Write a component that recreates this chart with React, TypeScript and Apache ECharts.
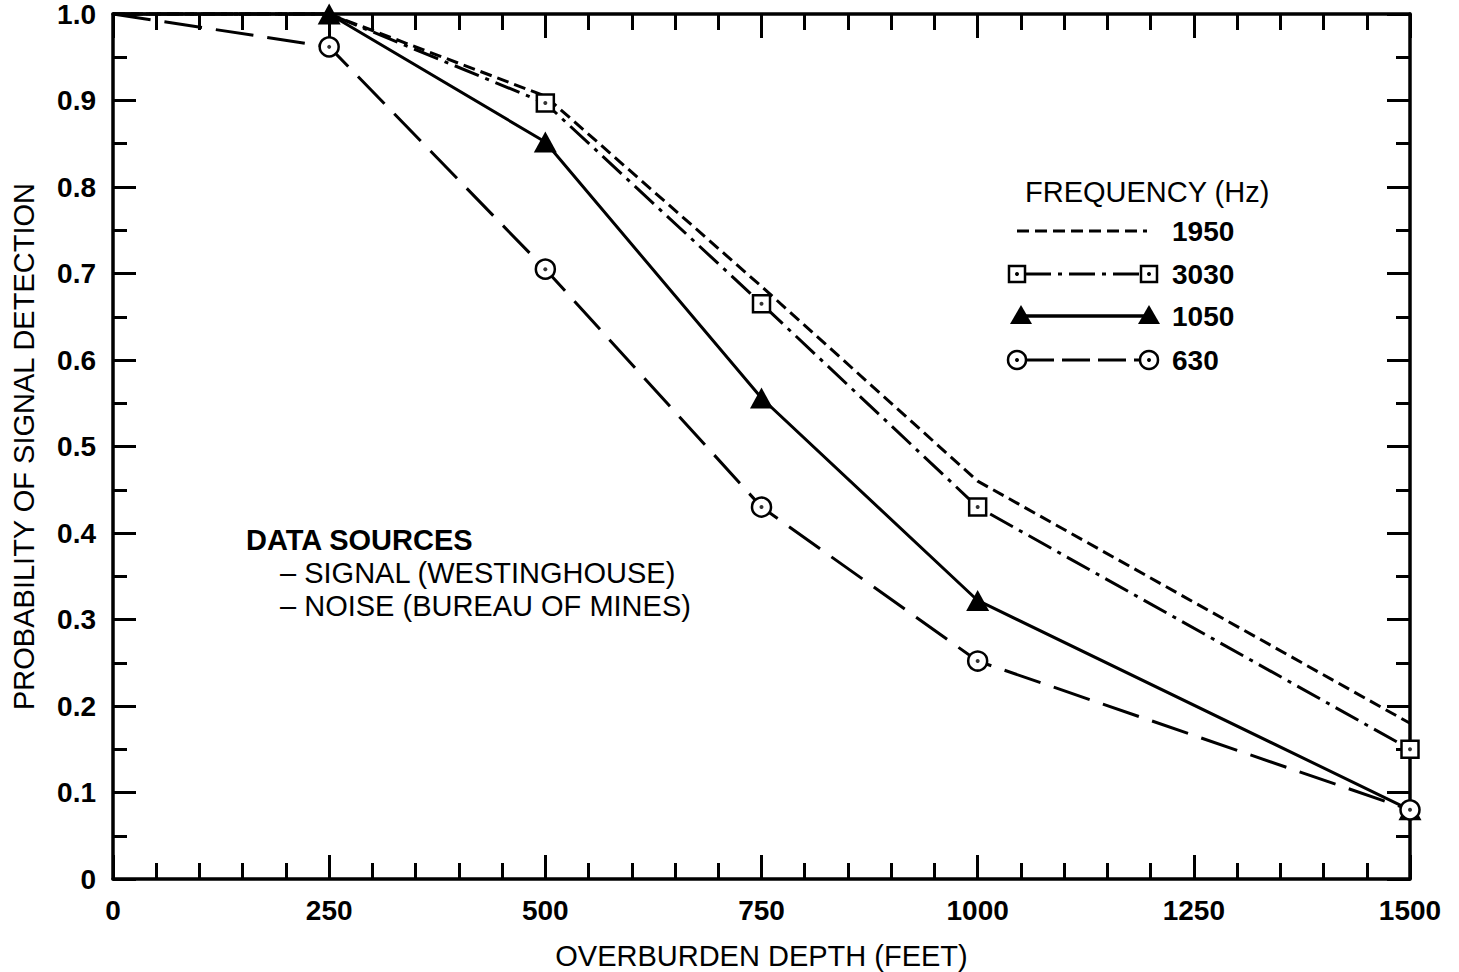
import React, { useEffect, useRef } from "react";
import * as echarts from "echarts";

// Overburden depth (feet) at which detection probability was evaluated
const depth = [0, 250, 500, 750, 1000, 1500];

// Probability of signal detection per frequency (Hz)
const f1950 = [1.0, 1.0, 0.905, 0.685, 0.46, 0.18];
const f3030 = [1.0, 1.0, 0.897, 0.665, 0.43, 0.15];
const f1050 = [1.0, 1.0, 0.852, 0.556, 0.322, 0.08];
const f630 = [1.0, 0.962, 0.705, 0.43, 0.252, 0.08];

// First index that carries a plotted marker for each marked curve
const markFrom3030 = 2;
const markFrom1050 = 1;
const markFrom630 = 1;

const xTicks = [0, 250, 500, 750, 1000, 1250, 1500];
const yTicks = [0, 0.1, 0.2, 0.3, 0.4, 0.5, 0.6, 0.7, 0.8, 0.9, 1.0];

const legendTitle = "FREQUENCY (Hz)";
const sourcesTitle = "DATA SOURCES";
const sourceLines = ["– SIGNAL (WESTINGHOUSE)", "– NOISE (BUREAU OF MINES)"];

const FONT = '"Liberation Sans", Arial, Helvetica, sans-serif';
const INK = "#000";
const TICK_FONT = 28;
const TEXT_FONT = 29;

const pairs = (ys: number[]) => depth.map((d, i) => [d, ys[i]]);

const withMarkers = (ys: number[], from: number) =>
  depth.map((d, i) => (i >= from ? { value: [d, ys[i]] } : { value: [d, ys[i]], symbol: "none" }));

const dotsFor = (ys: number[], from: number) =>
  depth.map((d, i) => [d, ys[i]]).filter((_, i) => i >= from);

function axisPair(kind: "x" | "y", showLabels: boolean, position: string) {
  const isX = kind === "x";
  return {
    type: "value",
    position,
    min: 0,
    max: isX ? xTicks[xTicks.length - 1] : yTicks[yTicks.length - 1],
    interval: isX ? 250 : 0.1,
    axisLine: { show: true, onZero: false, lineStyle: { color: INK, width: 3.5 } },
    axisTick: { show: true, inside: true, length: isX ? 24 : 23, lineStyle: { color: INK, width: 3 } },
    minorTick: {
      show: true,
      splitNumber: isX ? 5 : 2,
      length: isX ? 16 : 14,
      lineStyle: { color: INK, width: 3 },
    },
    splitLine: { show: false },
    minorSplitLine: { show: false },
    axisLabel: {
      show: showLabels,
      color: INK,
      fontFamily: FONT,
      fontSize: TICK_FONT,
      fontWeight: "bold",
      margin: 17,
      formatter: (v: number) => (isX ? String(v) : v === 0 ? "0" : v.toFixed(1)),
    },
  };
}

export default function App() {
  const ref = useRef<HTMLDivElement>(null);

  useEffect(() => {
    if (!ref.current) return;
    const chart = echarts.init(ref.current, undefined, { renderer: "svg" });

    const lineBase = {
      type: "line",
      smooth: false,
      clip: false,
      color: INK,
      itemStyle: { color: "#fff", borderColor: INK, borderWidth: 2.5 },
    };

    // legend sample geometry
    const lx1 = 1017;
    const lx2 = 1149;
    const rows = [231, 274, 316, 360];
    const labelX = 1172;

    const legendText = (text: string, y: number) => ({
      type: "text",
      x: labelX,
      y,
      style: { text, fill: INK, font: `bold ${TICK_FONT}px ${FONT}`, textVerticalAlign: "middle" },
    });

    const option = {
      animation: false,
      backgroundColor: "#fff",
      grid: { left: 113, right: 49, top: 14, bottom: 93, outerBoundsMode: "none", containLabel: false },
      xAxis: [
        {
          ...axisPair("x", true, "bottom"),
          name: "OVERBURDEN DEPTH (FEET)",
          nameLocation: "middle",
          nameGap: 62,
          nameTextStyle: { color: INK, fontFamily: FONT, fontSize: TEXT_FONT },
        },
        axisPair("x", false, "top"),
      ],
      yAxis: [
        {
          ...axisPair("y", true, "left"),
          name: "PROBABILITY OF SIGNAL DETECTION",
          nameLocation: "middle",
          nameRotate: 90,
          nameGap: 75,
          nameTextStyle: { color: INK, fontFamily: FONT, fontSize: TEXT_FONT },
        },
        axisPair("y", false, "right"),
      ],
      series: [
        {
          ...lineBase,
          name: "1950",
          data: pairs(f1950),
          showSymbol: false,
          symbol: "none",
          lineStyle: { color: INK, width: 3, type: [12, 6] },
          z: 2,
        },
        {
          ...lineBase,
          name: "3030",
          data: withMarkers(f3030, markFrom3030),
          symbol: "rect",
          symbolSize: 17,
          lineStyle: { color: INK, width: 3, type: [26, 7, 4, 7] },
          z: 3,
        },
        {
          ...lineBase,
          name: "1050",
          data: withMarkers(f1050, markFrom1050),
          symbol: "triangle",
          symbolSize: [23, 21],
          itemStyle: { color: INK, borderColor: INK, borderWidth: 0 },
          lineStyle: { color: INK, width: 3, type: "solid" },
          z: 4,
        },
        {
          ...lineBase,
          name: "630",
          data: withMarkers(f630, markFrom630),
          symbol: "circle",
          symbolSize: 19,
          lineStyle: { color: INK, width: 3, type: [38, 14] },
          z: 5,
        },
        {
          type: "scatter",
          name: "centres",
          clip: false,
          data: [...dotsFor(f3030, markFrom3030), ...dotsFor(f630, markFrom630)],
          symbol: "circle",
          symbolSize: 4,
          itemStyle: { color: INK },
          z: 6,
        },
      ],
      graphic: [
        {
          type: "text",
          x: 1025,
          y: 192,
          style: { text: legendTitle, fill: INK, font: `${TEXT_FONT}px ${FONT}`, textVerticalAlign: "middle" },
        },
        // 1950
        {
          type: "line",
          shape: { x1: lx1, y1: rows[0], x2: lx2 - 2, y2: rows[0] },
          style: { stroke: INK, lineWidth: 3, lineDash: [12, 6] },
        },
        legendText("1950", rows[0]),
        // 3030
        {
          type: "line",
          shape: { x1: lx1 + 8, y1: rows[1], x2: lx2 - 8, y2: rows[1] },
          style: { stroke: INK, lineWidth: 3, lineDash: [26, 7, 4, 7] },
        },
        {
          type: "rect",
          shape: { x: lx1 - 8, y: rows[1] - 8, width: 16, height: 16 },
          style: { fill: "#fff", stroke: INK, lineWidth: 2.5 },
        },
        {
          type: "rect",
          shape: { x: lx2 - 8, y: rows[1] - 8, width: 16, height: 16 },
          style: { fill: "#fff", stroke: INK, lineWidth: 2.5 },
        },
        { type: "circle", shape: { cx: lx1, cy: rows[1], r: 2 }, style: { fill: INK } },
        { type: "circle", shape: { cx: lx2, cy: rows[1], r: 2 }, style: { fill: INK } },
        legendText("3030", rows[1]),
        // 1050
        {
          type: "line",
          shape: { x1: lx1 + 4, y1: rows[2], x2: lx2 - 4, y2: rows[2] },
          style: { stroke: INK, lineWidth: 3.5 },
        },
        {
          type: "polygon",
          shape: { points: [[lx1 + 4, rows[2] - 11], [lx1 - 7, rows[2] + 8], [lx1 + 15, rows[2] + 8]] },
          style: { fill: INK },
        },
        {
          type: "polygon",
          shape: { points: [[lx2, rows[2] - 11], [lx2 - 11, rows[2] + 8], [lx2 + 11, rows[2] + 8]] },
          style: { fill: INK },
        },
        legendText("1050", rows[2]),
        // 630
        {
          type: "line",
          shape: { x1: lx1 + 9, y1: rows[3], x2: lx2 - 9, y2: rows[3] },
          style: { stroke: INK, lineWidth: 3, lineDash: [28, 8] },
        },
        {
          type: "circle",
          shape: { cx: lx1, cy: rows[3], r: 9 },
          style: { fill: "#fff", stroke: INK, lineWidth: 2.5 },
        },
        {
          type: "circle",
          shape: { cx: lx2, cy: rows[3], r: 9 },
          style: { fill: "#fff", stroke: INK, lineWidth: 2.5 },
        },
        { type: "circle", shape: { cx: lx1, cy: rows[3], r: 2 }, style: { fill: INK } },
        { type: "circle", shape: { cx: lx2, cy: rows[3], r: 2 }, style: { fill: INK } },
        legendText("630", rows[3]),
        // data sources note
        {
          type: "text",
          x: 246,
          y: 540,
          style: { text: sourcesTitle, fill: INK, font: `bold ${TEXT_FONT}px ${FONT}`, textVerticalAlign: "middle" },
        },
        {
          type: "text",
          x: 280,
          y: 573,
          style: { text: sourceLines[0], fill: INK, font: `${TEXT_FONT}px ${FONT}`, textVerticalAlign: "middle" },
        },
        {
          type: "text",
          x: 280,
          y: 606,
          style: { text: sourceLines[1], fill: INK, font: `${TEXT_FONT}px ${FONT}`, textVerticalAlign: "middle" },
        },
      ],
    };

    chart.setOption(option as any);
    return () => chart.dispose();
  }, []);

  return <div ref={ref} style={{ width: 1459, height: 972, position: "absolute", left: 0, top: 0 }} />;
}
